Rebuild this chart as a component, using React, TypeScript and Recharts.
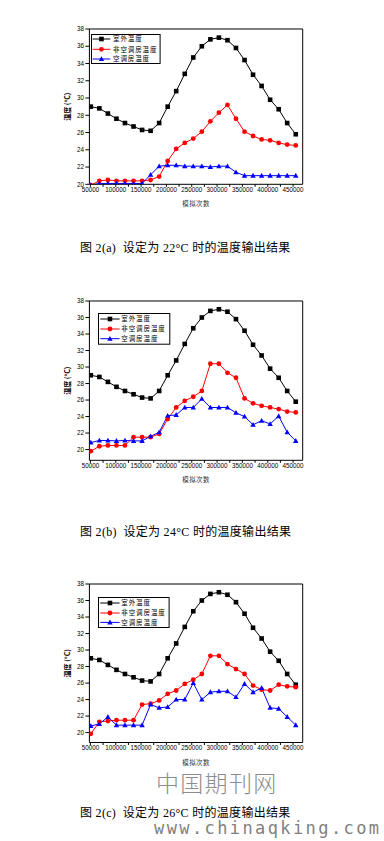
import React from 'react';
import { LineChart, Line, XAxis, YAxis, ReferenceLine, Legend } from 'recharts';

// ---------- data ----------
const simulationCounts = [
  50800, 67650, 84500, 101400, 118200, 135100, 152000, 168800, 185700, 202500,
  219300, 236200, 253000, 269900, 286800, 303600, 320500, 337300, 354200, 371000,
  387900, 404700, 421600, 438400, 455300,
];

const outdoorTemp = [
  29.0, 28.8, 28.2, 27.6, 27.1, 26.7, 26.3, 26.2, 27.1, 29.0, 30.8, 32.8, 34.7,
  36.0, 36.8, 37.0, 36.7, 35.8, 34.4, 32.7, 31.4, 29.8, 28.7, 27.1, 25.8,
];

const nonAcTemp22 = [
  19.9, 20.4, 20.5, 20.4, 20.4, 20.4, 20.4, 20.5, 20.9, 22.7, 24.1, 24.8, 25.3,
  26.1, 27.3, 28.3, 29.2, 27.6, 26.1, 25.6, 25.2, 25.1, 24.8, 24.6, 24.5,
];
const acTemp22 = [
  19.9, 20.1, 20.1, 20.1, 20.1, 20.1, 20.1, 21.1, 22.1, 22.2, 22.2, 22.1, 22.1,
  22.1, 22.0, 22.1, 22.1, 21.4, 21.0, 21.0, 21.0, 21.0, 21.0, 21.0, 21.0,
];

const nonAcTemp24 = [
  19.8, 20.4, 20.5, 20.5, 20.5, 21.5, 21.5, 21.5, 21.9, 23.7, 25.1, 25.9, 26.4,
  27.1, 30.4, 30.4, 29.3, 28.7, 26.2, 25.6, 25.3, 25.1, 24.9, 24.6, 24.5,
];
const acTemp24 = [
  20.85, 21.1, 21.1, 21.05, 21.1, 21.05, 21.05, 21.6, 22.1, 24.1, 24.2, 25.1, 25.1,
  26.15, 25.1, 25.1, 25.1, 24.45, 24.0, 23.0, 23.5, 23.1, 24.05, 22.1, 21.05,
];

const nonAcTemp26 = [
  19.85, 21.3, 21.4, 21.5, 21.5, 21.5, 23.4, 23.5, 23.9, 24.7, 25.1, 25.9, 26.4,
  27.1, 29.3, 29.3, 28.3, 27.7, 27.1, 25.7, 25.2, 25.1, 25.8, 25.6, 25.5,
];
const acTemp26 = [
  20.8, 21.05, 21.9, 20.9, 20.9, 20.9, 20.9, 23.4, 23.0, 23.1, 24.0, 24.0, 26.0,
  24.0, 24.9, 25.0, 25.0, 24.3, 25.9, 24.9, 25.4, 23.0, 22.9, 21.9, 20.9,
];

const xTicks = [
  50000, 75000, 100000, 125000, 150000, 175000, 200000, 225000, 250000, 275000,
  300000, 325000, 350000, 375000, 400000, 425000, 450000,
];
const yTicks = [20, 22, 24, 26, 28, 30, 32, 34, 36, 38];

const legendLabels = ['室外温度', '非空调房温度', '空调房温度'];
const xAxisTitle = '模拟次数';
const yAxisTitle = '温度 (°C)';
const captions = [
  '图 2(a)  设定为 22°C 时的温度输出结果',
  '图 2(b)  设定为 24°C 时的温度输出结果',
  '图 2(c)  设定为 26°C 时的温度输出结果',
];

// ---------- styling ----------
const X_DOMAIN: [number, number] = [48000, 469000];
const SERIES = [
  { key: 'outdoor', color: '#000000', shape: 'square' },
  { key: 'nonAc', color: '#ff0000', shape: 'circle' },
  { key: 'ac', color: '#0000ff', shape: 'triangle' },
];
const LATIN = "'Liberation Sans', Arial, sans-serif";
const CJK = "'Noto Sans CJK SC', 'Liberation Sans', sans-serif";

function marker(shape: string, color: string, cx: number, cy: number, key?: any) {
  if (shape === 'square') {
    return <rect key={key} x={cx - 2.3} y={cy - 2.3} width={4.6} height={4.6} fill={color} />;
  }
  if (shape === 'circle') {
    return <circle key={key} cx={cx} cy={cy} r={2.4} fill={color} />;
  }
  return (
    <path
      key={key}
      d={`M${cx},${cy - 2.8} L${cx + 2.7},${cy + 2} L${cx - 2.7},${cy + 2} Z`}
      fill={color}
    />
  );
}

const makeDot = (shape: string, color: string) => (props: any) => {
  const { cx, cy, index } = props;
  if (cx == null || cy == null) return <g key={`e-${index}`} />;
  return marker(shape, color, cx, cy, `${shape}-${index}`);
};

function LegendBox({ lg }: { lg: any }) {
  return (
    <svg width={lg.w + 1} height={lg.h + 1} style={{ display: 'block', overflow: 'visible' }}>
      <rect x={0.5} y={0.5} width={lg.w} height={lg.h} fill="#fff" stroke="#000" strokeWidth={1} />
      {SERIES.map((s, i) => {
        const y = lg.rows[i];
        const mid = (lg.x0 + lg.x1) / 2;
        return (
          <g key={s.key}>
            <line x1={lg.x0} x2={lg.x1} y1={y} y2={y} stroke={s.color} strokeWidth={1} />
            {marker(s.shape, s.color, mid, y)}
            <text
              x={lg.tx}
              y={y}
              dy="0.35em"
              fontSize={6.5}
              letterSpacing={0.9}
              fontFamily={CJK}
              fill="#000"
            >
              {legendLabels[i]}
            </text>
          </g>
        );
      })}
    </svg>
  );
}

const MT = 10;
const XH = 25;

const panels = [
  {
    nonAc: nonAcTemp22,
    ac: acTemp22,
    plotTop: 28.5,
    plotH: 155.3,
    yMin: 20,
    legend: { left: 90.7, top: 34, w: 68.6, h: 29, rows: [5, 15.3, 25], x0: 1.6, x1: 19.3, tx: 22 },
    caption: captions[0],
    captionY: 247.5,
  },
  {
    nonAc: nonAcTemp24,
    ac: acTemp24,
    plotTop: 300.7,
    plotH: 159.3,
    yMin: 18.7,
    legend: { left: 97.7, top: 313.3, w: 71.3, h: 30.7, rows: [6, 16, 25.7], x0: 2.3, x1: 21.6, tx: 23.3 },
    caption: captions[1],
    captionY: 532,
  },
  {
    nonAc: nonAcTemp26,
    ac: acTemp26,
    plotTop: 584,
    plotH: 158.5,
    yMin: 18.8,
    legend: { left: 97.7, top: 597.3, w: 70.6, h: 30, rows: [6, 16, 25.4], x0: 2.3, x1: 21.6, tx: 23.3 },
    caption: captions[2],
    captionY: 812.5,
  },
];

function Panel({ cfg }: { cfg: any }) {
  const data = simulationCounts.map((x, i) => ({
    x,
    outdoor: outdoorTemp[i],
    nonAc: cfg.nonAc[i],
    ac: cfg.ac[i],
  }));
  const chartTop = cfg.plotTop - MT;
  return (
    <div style={{ position: 'absolute', left: 0, top: chartTop }}>
      <LineChart
        width={384}
        height={MT + cfg.plotH + XH}
        data={data}
        margin={{ top: MT, right: 81.3, bottom: 0, left: 0 }}
      >
        <XAxis
          dataKey="x"
          type="number"
          domain={X_DOMAIN}
          allowDataOverflow
          ticks={xTicks}
          interval={0}
          tickFormatter={(v: number) => (v % 50000 === 0 ? String(v) : '')}
          height={XH}
          tickSize={2.5}
          tickMargin={1}
          stroke="#000"
          tick={{ fontSize: 6.3, fill: '#000', fontFamily: LATIN }}
          label={{
            value: xAxisTitle,
            position: 'insideBottom',
            offset: 3,
            style: { fontSize: 6.5, fill: '#333', fontFamily: CJK, letterSpacing: 0.4 },
          }}
        />
        <YAxis
          type="number"
          domain={[cfg.yMin, 38]}
          allowDataOverflow
          ticks={yTicks}
          interval={0}
          width={89.4}
          tickSize={4}
          tickMargin={1.5}
          stroke="#000"
          tick={{ fontSize: 6.3, fill: '#000', fontFamily: LATIN }}
          label={{
            value: yAxisTitle,
            angle: -90,
            position: 'insideLeft',
            offset: 68,
            style: { textAnchor: 'middle', fontSize: 7, fill: '#000', fontFamily: CJK, fontWeight: 'bold' },
          }}
        />
        <ReferenceLine y={38} stroke="#000" strokeWidth={1} />
        <ReferenceLine x={X_DOMAIN[1]} stroke="#000" strokeWidth={1} />
        {SERIES.map((s) => (
          <Line
            key={s.key}
            dataKey={s.key}
            stroke={s.color}
            strokeWidth={1}
            isAnimationActive={false}
            dot={makeDot(s.shape, s.color)}
            activeDot={false}
            type="linear"
          />
        ))}
        <Legend
          layout="horizontal"
          verticalAlign="middle"
          align="center"
          wrapperStyle={{
            left: cfg.legend.left,
            top: cfg.legend.top - chartTop,
            width: cfg.legend.w + 1,
            height: cfg.legend.h + 1,
          }}
          content={() => <LegendBox lg={cfg.legend} />}
        />
      </LineChart>
    </div>
  );
}

export default function App() {
  return (
    <div
      style={{
        position: 'absolute',
        left: 0,
        top: 0,
        width: 384,
        height: 841,
        overflow: 'hidden',
        background: '#fff',
      }}
    >
      {panels.map((p, i) => (
        <Panel key={i} cfg={p} />
      ))}
      {panels.map((p, i) => (
        <div
          key={`c${i}`}
          style={{
            position: 'absolute',
            left: 80,
            top: p.captionY - 8,
            height: 16,
            lineHeight: '16px',
            fontSize: 12,
            letterSpacing: 0.3,
            whiteSpace: 'pre',
            color: '#000',
            fontFamily: "'Liberation Serif', 'Noto Sans CJK SC', serif",
          }}
        >
          {p.caption}
        </div>
      ))}
      <div
        style={{
          position: 'absolute',
          left: 156,
          top: 769,
          lineHeight: '26px',
          fontSize: 23,
          letterSpacing: 1.3,
          color: '#8c8c8c',
          fontWeight: 300,
          whiteSpace: 'pre',
          fontFamily: "'Noto Sans CJK SC', sans-serif",
        }}
      >
        中国期刊网
      </div>
      <div
        style={{
          position: 'absolute',
          left: 154,
          top: 818,
          lineHeight: '20px',
          fontSize: 17,
          letterSpacing: 2.4,
          color: '#808080',
          whiteSpace: 'pre',
          fontFamily: "'DejaVu Sans Mono', monospace",
        }}
      >
        www.chinaqking.com
      </div>
    </div>
  );
}
